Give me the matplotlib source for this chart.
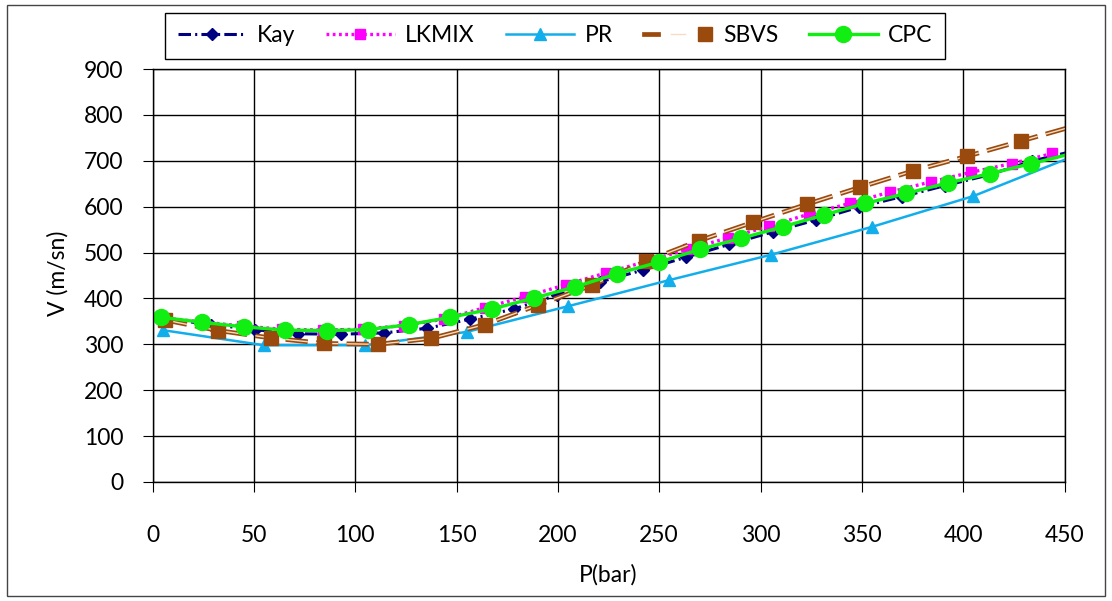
import matplotlib
matplotlib.use("Agg")
import matplotlib.pyplot as plt
from matplotlib.legend_handler import HandlerTuple
from matplotlib.lines import Line2D
from matplotlib.patches import Rectangle

# pressure (bar) and speed (m/sn) per model
kay_p = [7.8, 29.1, 50.4, 71.7, 93.0, 114.3, 135.6, 156.9, 178.2, 199.5, 220.8,
         242.1, 263.4, 284.7, 306.0, 327.3, 348.6, 369.9, 391.2, 412.5, 433.8, 455.1]
kay_v = [355, 343, 332, 323, 322, 325, 335, 355, 377, 407, 436,
         462, 490, 518, 545, 571, 599, 622, 646, 669, 699, 722]

lkmix_p = [4, 24, 44, 64, 84, 104, 124, 144, 164, 184, 204, 224,
           244, 264, 284, 304, 324, 344, 364, 384, 404, 424, 444]
lkmix_v = [358, 349, 340, 333, 331, 333, 341, 355, 380, 404, 430, 456,
           481, 507, 532, 557, 584, 607, 632, 654, 675, 694, 716]

pr_p = [5, 55, 105, 155, 205, 255, 305, 355, 405, 455]
pr_v = [331, 298, 298, 327, 383, 440, 495, 556, 623, 711]

sbvs_p = [6.2, 32.4, 58.3, 84.6, 111.2, 137.6, 164.0, 190.4, 217.0, 243.5,
          269.8, 296.3, 322.7, 349.0, 375.3, 402.0, 428.5, 455.0]
sbvs_v = [353, 330, 314, 302, 300, 313, 343, 386, 429, 481,
          526, 566, 605, 642, 678, 710, 743, 776]

cpc_p = [4, 24.6, 45.2, 65.5, 86, 106.2, 126.7, 147, 167.6, 188.3, 208.5, 229.2,
         249.8, 270.1, 290.4, 310.9, 331.3, 351.6, 372, 392.6, 413.2, 433.7, 454]
cpc_v = [359, 348, 338, 331, 330, 332, 343, 359, 377, 401, 425, 454,
         479, 507, 531, 556, 582, 607, 629, 652, 672, 694, 716]

NAVY, MAG, CYAN, BROWN, TAN, GREEN = ("#000080", "#FF00FF", "#12AEEB",
                                      "#9A4A0C", "#F6DCC4", "#11EE11")

plt.rcParams["font.family"] = ["Lato", "DejaVu Sans"]
plt.rcParams["lines.scale_dashes"] = False

W, H = 1112, 601
fig = plt.figure(figsize=(W / 100, H / 100), dpi=100)
fig.patches.append(Rectangle((7 / W, 5 / H), 1098 / W, 591 / H, transform=fig.transFigure,
                             fill=False, edgecolor="#444444", lw=1))

left, right, top, bottom = 152.5, 1064.5, 69, 482
ax = fig.add_axes([left / W, 1 - bottom / H, (right - left) / W, (bottom - top) / H])

kay_style = dict(color=NAVY, lw=2.2, ls=(0, (9, 3, 1.5, 3)), marker="D", ms=6.5, mec=NAVY)
lk_style = dict(color=MAG, lw=2.4, ls=(0, (2, 2.5)), marker="s", ms=6.5, mec=MAG)
pr_style = dict(color=CYAN, lw=1.8, marker="^", ms=9, mec=CYAN)
cpc_style = dict(color=GREEN, lw=2.4, marker="o", ms=11.5, mec=GREEN)

ax.plot(kay_p, kay_v, **kay_style)
ax.plot(lkmix_p, lkmix_v, **lk_style)
ax.plot(pr_p, pr_v, **pr_style)
# SBVS: dashed double line (brown with a light stripe), then the markers
ax.plot(sbvs_p, sbvs_v, color=BROWN, lw=3.4, ls=(0, (16, 6)), dash_capstyle="butt")
ax.plot(sbvs_p, sbvs_v, color=TAN, lw=1.0, ls=(0, (16, 6)), dash_capstyle="butt")
ax.plot(sbvs_p, sbvs_v, ls="none", marker="s", ms=9.5, color=BROWN, mec=BROWN)
ax.plot(cpc_p, cpc_v, **cpc_style)

ax.set_xlim(0, 450)
ax.set_ylim(0, 900)
ax.set_xticks(range(0, 451, 50))
ax.set_yticks(range(0, 901, 100))
ax.grid(True, color="black", lw=1)
ax.set_axisbelow(True)
for s in ax.spines.values():
    s.set_color("black")
    s.set_linewidth(1)
ax.tick_params(axis="x", direction="out", length=7, pad=24, labelsize=16.5)
ax.tick_params(axis="y", direction="out", length=7, pad=14, labelsize=16.5)

fig.text(608 / W, 1 - 575 / H, "P(bar)", ha="center", va="center", fontsize=16.5)
fig.text(58 / W, 1 - 273 / H, "V (m/sn)", ha="center", va="center",
         rotation=90, fontsize=16.5)

# legend proxies (solid double line for SBVS as in the original key)
handles = [
    Line2D([], [], **kay_style),
    Line2D([], [], **lk_style),
    Line2D([], [], **pr_style),
    (Line2D([], [], color=BROWN, lw=3.4), Line2D([], [], color=TAN, lw=1.0),
     Line2D([], [], ls="none", marker="s", ms=9.5, color=BROWN)),
    Line2D([], [], **cpc_style),
]
fig.legend(handles, ["Kay", "LKMIX", "PR", "SBVS", "CPC"],
           handler_map={tuple: HandlerTuple(ndivide=None)},
           loc="center", bbox_to_anchor=(555 / W, 1 - 36 / H), ncol=5,
           fontsize=16.5, frameon=True, fancybox=False, edgecolor="black",
           framealpha=1, handlelength=3.0, handletextpad=0.45,
           columnspacing=1.35, borderpad=0.55)

fig.savefig("out.png", dpi=100)
